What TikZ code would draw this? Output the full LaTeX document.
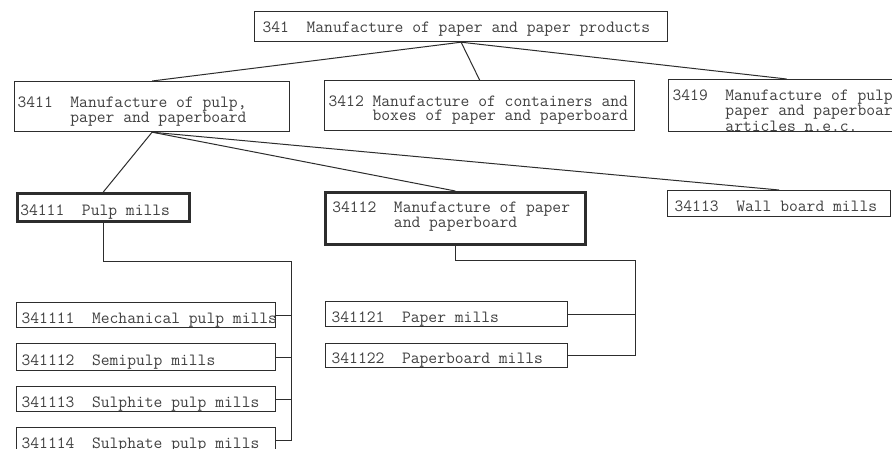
\documentclass[tikz,border=0pt]{standalone}
\usepackage{fontspec}
\definecolor{lineclr}{RGB}{45,45,45}
\definecolor{textclr}{RGB}{65,65,65}
\newcommand\txtup[1][20pt]{\rule{0pt}{#1}}
\newcommand\ts{\makebox[\fontcharwd\font`0]{}}
\begin{document}
\begin{tikzpicture}[x=1pt,y=-1pt,
  box/.style={draw=lineclr, line width=1.2pt, rectangle, anchor=north west,
    inner ysep=0pt, align=left, text=textclr,
    font=\ttfamily\fontsize{17.1}{14}\selectfont},
  thickbox/.style={box, line width=2.6pt},
  conn/.style={draw=lineclr, line width=1pt}]
\useasboundingbox (0,0) rectangle (892,449);
\fill[white] (0,0) rectangle (892,449);
\clip (0,0) rectangle (892,449);

% level 1
\node[box, minimum width=413pt, minimum height=30pt, inner xsep=8pt, text width=397pt]
  (t341) at (254,11) {\txtup[16pt]341\ts\ts Manufacture\ts of\ts paper\ts and\ts paper\ts products};

% level 2
\node[box, minimum width=275pt, minimum height=50pt, inner xsep=3pt, text width=269pt]
  (n3411) at (14,81) {\txtup3411\ts\ts Manufacture\ts of\ts pulp,\\\ts\ts\ts\ts\ts\ts paper\ts and\ts paperboard};
\node[box, minimum width=310pt, minimum height=50pt, inner xsep=4pt, text width=302pt]
  (n3412) at (324,80) {\txtup3412\ts Manufacture\ts of\ts containers\ts and\\\ts\ts\ts\ts\ts boxes\ts of\ts paper\ts and\ts paperboard};
\node[box, minimum width=236pt, minimum height=49pt, inner xsep=4pt, text width=228pt]
  (n3419) at (668,79) {\txtup[21pt]3419\ts\ts Manufacture\ts of\ts pulp\\\ts\ts\ts\ts\ts\ts paper\ts and\ts paperboard\\\ts\ts\ts\ts\ts\ts articles\ts n.e.c.};

% level 3
\node[thickbox, minimum width=172pt, minimum height=28pt, inner xsep=3pt, text width=166pt]
  (n34111) at (16,192) {\txtup34111\ts\ts Pulp\ts mills};
\node[thickbox, minimum width=260pt, minimum height=52pt, inner xsep=7pt, text width=246pt]
  (n34112) at (324,191) {34112\ts\ts Manufacture\ts of\ts paper\\\ts\ts\ts\ts\ts\ts\ts and\ts paperboard\rule[-7pt]{0pt}{7pt}};
\node[box, minimum width=223pt, minimum height=26pt, inner xsep=7pt, text width=209pt]
  (n34113) at (667,190) {\txtup[17pt]34113\ts\ts Wall\ts board\ts mills};

% level 4
\node[box, minimum width=259pt, minimum height=25pt, inner xsep=5pt, text width=249pt]
  (n341111) at (16,302) {\txtup341111\ts\ts Mechanical\ts pulp\ts mills};
\node[box, minimum width=259pt, minimum height=27pt, inner xsep=5pt, text width=249pt]
  (n341112) at (16,343) {\txtup341112\ts\ts Semipulp\ts mills};
\node[box, minimum width=259pt, minimum height=25pt, inner xsep=5pt, text width=249pt]
  (n341113) at (16,386) {\txtup341113\ts\ts Sulphite\ts pulp\ts mills};
\node[box, minimum width=259pt, minimum height=26pt, inner xsep=5pt, text width=249pt]
  (n341114) at (16,427) {\txtup341114\ts\ts Sulphate\ts pulp\ts mills};

\node[box, minimum width=242pt, minimum height=25pt, inner xsep=6pt, text width=230pt]
  (n341121) at (325,301) {\txtup341121\ts\ts Paper\ts mills};
\node[box, minimum width=242pt, minimum height=24pt, inner xsep=6pt, text width=230pt]
  (n341122) at (325,343) {\txtup341122\ts\ts Paperboard\ts mills};

% connectors
\draw[conn] (t341.south) -- (n3411.north);
\draw[conn] (t341.south) -- (n3412.north);
\draw[conn] (t341.south) -- (n3419.north);
\draw[conn] (n3411.south) -- (n34111.north);
\draw[conn] (n3411.south) -- (n34112.north);
\draw[conn] (n3411.south) -- (n34113.north);

\coordinate (bar1) at (291,262);
\draw[conn] (n34111.south) |- (bar1) -- (bar1 |- n341114.east) -- (n341114.east);
\foreach \n in {n341111,n341112,n341113}
  \draw[conn] (bar1 |- \n.east) -- (\n.east);

\coordinate (bar2) at (635,261);
\draw[conn] (n34112.south) |- (bar2) -- (bar2 |- n341122.east) -- (n341122.east);
\draw[conn] (bar2 |- n341121.east) -- (n341121.east);
\end{tikzpicture}
\end{document}
